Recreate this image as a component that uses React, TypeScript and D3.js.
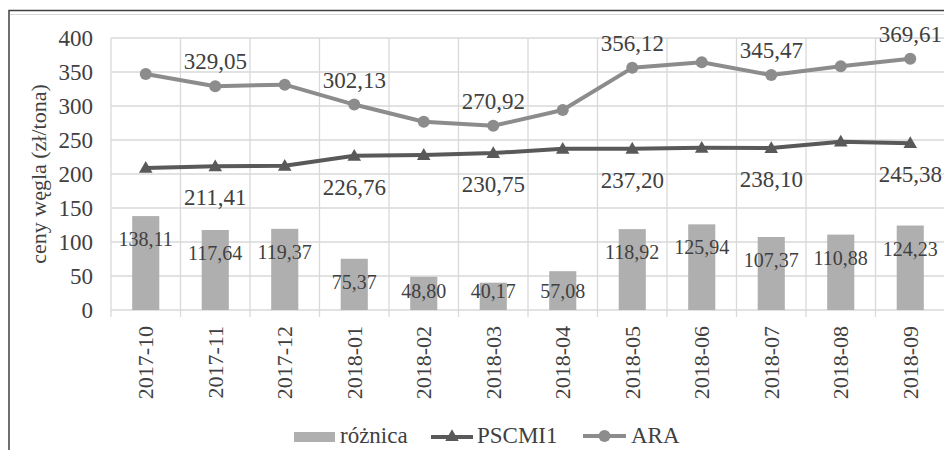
// Coal price chart: różnica (bars), PSCMI1 and ARA (lines) — serif typography
import * as d3 from 'd3';
import React from 'react';

const categories = ['2017-10', '2017-11', '2017-12', '2018-01', '2018-02', '2018-03', '2018-04', '2018-05', '2018-06', '2018-07', '2018-08', '2018-09'];
const roznica = [138.11, 117.64, 119.37, 75.37, 48.8, 40.17, 57.08, 118.92, 125.94, 107.37, 110.88, 124.23];
const pscmi1 = [209.0, 211.41, 212.0, 226.76, 228.0, 230.75, 237.0, 237.2, 238.5, 238.1, 247.5, 245.38];
const ara = [347.11, 329.05, 331.37, 302.13, 276.8, 270.92, 294.08, 356.12, 364.44, 345.47, 358.38, 369.61];
const yTicks = [0, 50, 100, 150, 200, 250, 300, 350, 400];
const lineLabelIdx = [1, 3, 5, 7, 9, 11];

const W = 952;
const H = 450;
const M = { left: 111, right: 945, top: 38, bottom: 310 };
const SERIF = '"Liberation Serif"';
const TEXT = '#404040';
const GRID = '#d9d9d9';
const BAR = '#afafaf';
const ARA_C = '#8c8c8c';
const PS_C = '#595959';

const fmt = (v: number) => v.toFixed(2).replace('.', ',');

function Label(props: { x?: number; y?: number; transform?: string; size: number; anchor?: string; dy?: string; children: React.ReactNode }) {
  return (
    <text
      x={props.x}
      y={props.y}
      transform={props.transform}
      dy={props.dy}
      textAnchor={props.anchor || 'start'}
      fill={TEXT}
      style={{ fontFamily: SERIF, fontSize: `${props.size}px` }}
    >
      {props.children}
    </text>
  );
}

export default function App() {
  const x = d3.scaleBand<string>().domain(categories).range([M.left, M.right]);
  const y = d3.scaleLinear().domain([0, 400]).range([M.bottom, M.top]);
  const bw = x.bandwidth();
  const cx = (i: number) => (x(categories[i]) as number) + bw / 2;
  const barW = bw * 0.39;

  const line = d3
    .line<number>()
    .x((_, i) => cx(i))
    .y((d) => y(d));

  const tri = d3.symbol().type(d3.symbolTriangle).size(80)();
  const boundaries = categories.map((c) => x(c) as number).concat([M.right]);

  return (
    <svg width={W} height={H} style={{ display: 'block', margin: '-8px 0 0 -8px' }}>
      <rect x={0} y={0} width={W} height={H} fill="#fff" />
      <rect x={9} y={10.5} width={W + 20} height={H + 40} fill="none" stroke="#404040" strokeWidth={1.5} />
      <line x1={10} x2={W} y1={14.5} y2={14.5} stroke={GRID} strokeWidth={1} />

      {yTicks.map((t) => (
        <line key={'h' + t} x1={M.left} x2={M.right} y1={y(t)} y2={y(t)} stroke={GRID} strokeWidth={1.3} />
      ))}
      {boundaries.map((bx, i) => (
        <g key={'v' + i}>
          <line x1={bx} x2={bx} y1={M.top} y2={M.bottom} stroke={GRID} strokeWidth={1.3} />
          <line x1={bx} x2={bx} y1={M.bottom} y2={M.bottom + 7} stroke={GRID} strokeWidth={1.3} />
        </g>
      ))}

      {roznica.map((v, i) => (
        <rect key={'b' + i} x={cx(i) - barW / 2} y={y(v)} width={barW} height={y(0) - y(v)} fill={BAR} />
      ))}

      <path d={line(ara) || ''} fill="none" stroke={ARA_C} strokeWidth={4} strokeLinejoin="round" />
      {ara.map((v, i) => (
        <circle key={'c' + i} cx={cx(i)} cy={y(v)} r={6} fill={ARA_C} />
      ))}
      <path d={line(pscmi1) || ''} fill="none" stroke={PS_C} strokeWidth={4} strokeLinejoin="round" />
      {pscmi1.map((v, i) => (
        <path key={'t' + i} d={tri || ''} transform={`translate(${cx(i)},${y(v) + 1})`} fill={PS_C} />
      ))}

      {yTicks.map((t) => (
        <Label key={'yt' + t} x={93} y={y(t)} dy="0.35em" anchor="end" size={23}>
          {String(t)}
        </Label>
      ))}
      {categories.map((c, i) => (
        <Label key={'xl' + i} transform={`translate(${cx(i)},326) rotate(-90)`} dy="0.35em" anchor="end" size={22}>
          {c}
        </Label>
      ))}
      <Label transform={`translate(46,${(M.top + M.bottom) / 2}) rotate(-90)`} anchor="middle" size={22}>
        ceny węgla (zł/tona)
      </Label>

      {roznica.map((v, i) => (
        <Label key={'bl' + i} x={cx(i)} y={Math.min(y(v) + 23, 291)} dy="0.35em" anchor="middle" size={20}>
          {fmt(v)}
        </Label>
      ))}
      {lineLabelIdx.map((i) => (
        <g key={'ll' + i}>
          <Label x={cx(i)} y={y(ara[i]) - 25} dy="0.35em" anchor="middle" size={23}>
            {fmt(ara[i])}
          </Label>
          <Label x={cx(i)} y={y(pscmi1[i]) + 31} dy="0.35em" anchor="middle" size={23}>
            {fmt(pscmi1[i])}
          </Label>
        </g>
      ))}

      <rect x={294} y={432} width={41} height={10} fill={BAR} />
      <Label x={340} y={443} size={23}>różnica</Label>
      <line x1={431} x2={473} y1={437} y2={437} stroke={PS_C} strokeWidth={4} />
      <path d={tri || ''} transform="translate(452,437)" fill={PS_C} />
      <Label x={477} y={443} size={23}>PSCMI1</Label>
      <line x1={583} x2={626} y1={436} y2={436} stroke={ARA_C} strokeWidth={4} />
      <circle cx={604.5} cy={436} r={6} fill={ARA_C} />
      <Label x={631} y={443} size={23}>ARA</Label>
    </svg>
  );
}
